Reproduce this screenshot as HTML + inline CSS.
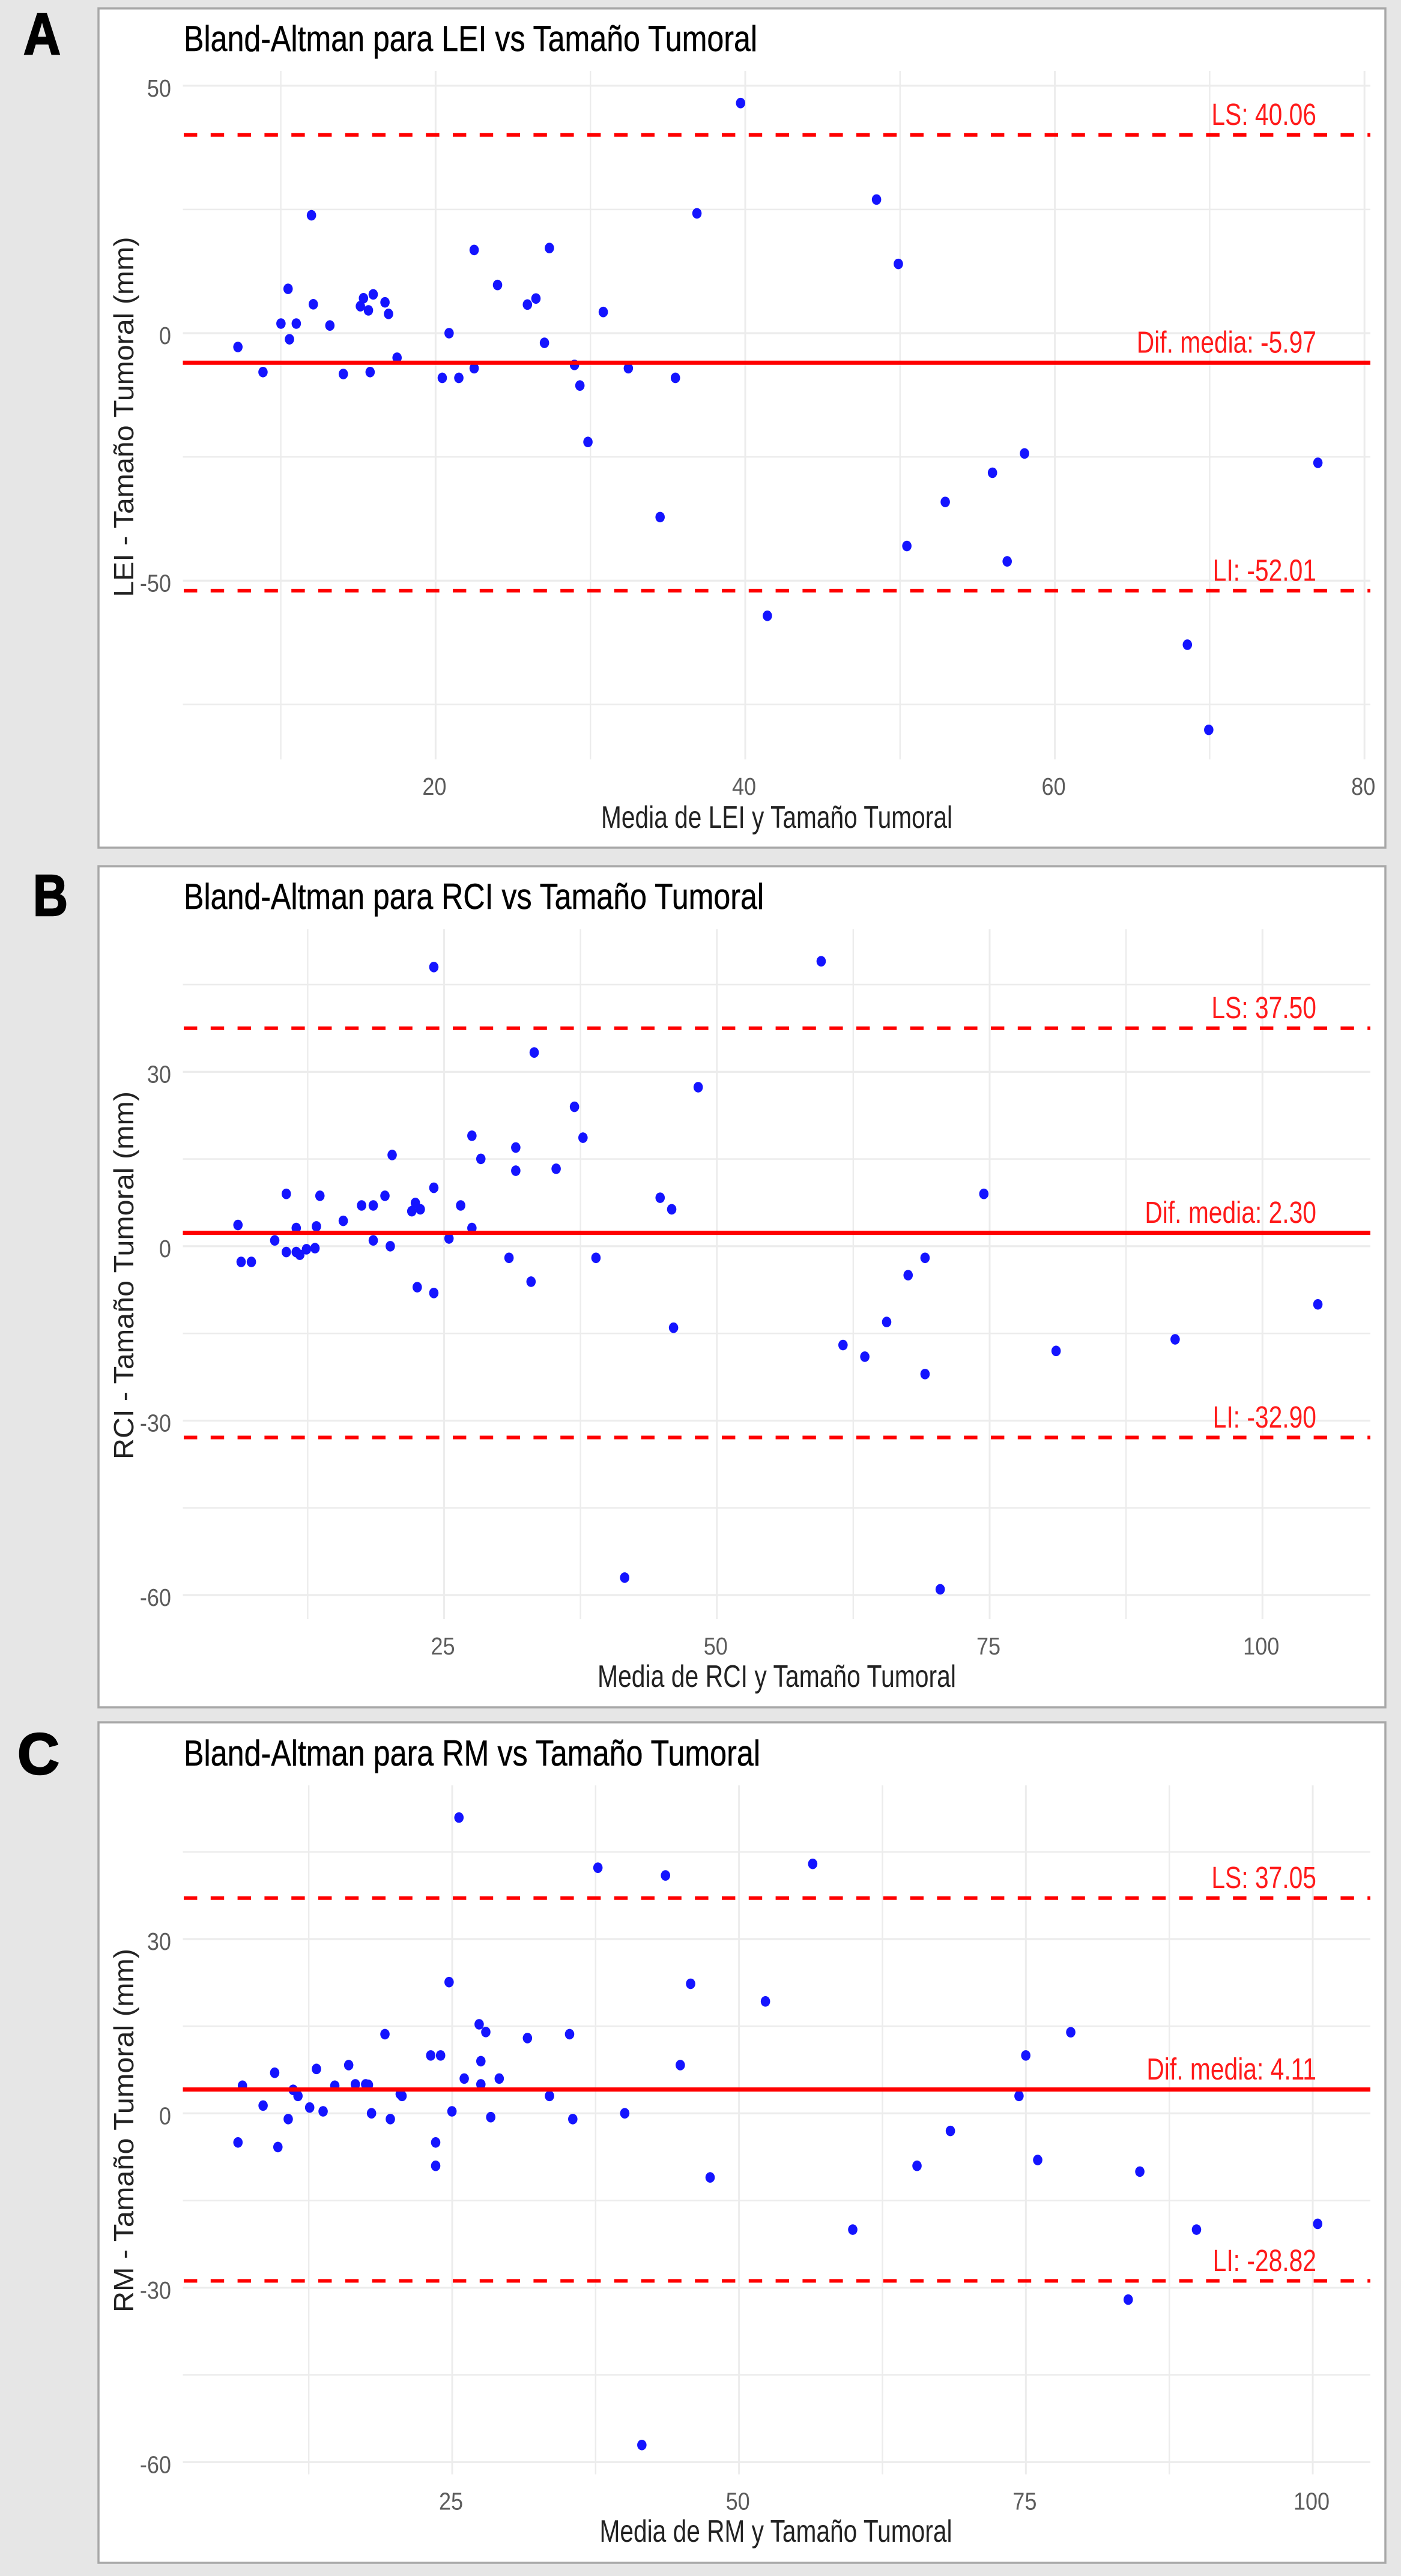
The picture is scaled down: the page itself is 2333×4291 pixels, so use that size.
<!DOCTYPE html>
<html lang="es">
<head>
<meta charset="utf-8">
<title>Bland-Altman</title>
<style>
html,body{margin:0;padding:0;background:#e6e6e6;}
svg{display:block;font-family:"Liberation Sans",sans-serif;}
</style>
</head>
<body>
<svg id="figure" xmlns="http://www.w3.org/2000/svg" width="2333" height="4291" viewBox="0 0 2333 4291">
  <rect x="0" y="0" width="2333" height="4291" fill="#e6e6e6"/>

  <g id="panel-a">
    <rect x="164" y="14" width="2143" height="1398" fill="#fff" stroke="#a8a8a8" stroke-width="3.5"/>
    <text x="39" y="90" font-size="97" font-weight="700" fill="#000" stroke="#000" stroke-width="2.5" textLength="62" lengthAdjust="spacingAndGlyphs">A</text>
    <text x="306" y="85" font-size="60" fill="#000" stroke="#000" stroke-width="0.5" textLength="955" lengthAdjust="spacingAndGlyphs">Bland-Altman para LEI vs Tamaño Tumoral</text>
    <text transform="translate(222,994.6) rotate(-90)" font-size="46" fill="#222" textLength="600" lengthAdjust="spacingAndGlyphs">LEI - Tamaño Tumoral (mm)</text>
    <text x="1001" y="1379" font-size="52" fill="#222" textLength="585" lengthAdjust="spacingAndGlyphs">Media de LEI y Tamaño Tumoral</text>
  </g>

  <g id="panel-b">
    <rect x="164" y="1443" width="2143" height="1401" fill="#fff" stroke="#a8a8a8" stroke-width="3.5"/>
    <text x="55" y="1525" font-size="97" font-weight="700" fill="#000" stroke="#000" stroke-width="2.5" textLength="58" lengthAdjust="spacingAndGlyphs">B</text>
    <text x="306" y="1514" font-size="60" fill="#000" stroke="#000" stroke-width="0.5" textLength="966" lengthAdjust="spacingAndGlyphs">Bland-Altman para RCI vs Tamaño Tumoral</text>
    <text transform="translate(222,2431) rotate(-90)" font-size="46" fill="#222" textLength="613" lengthAdjust="spacingAndGlyphs">RCI - Tamaño Tumoral (mm)</text>
    <text x="995" y="2810" font-size="52" fill="#222" textLength="597" lengthAdjust="spacingAndGlyphs">Media de RCI y Tamaño Tumoral</text>
  </g>

  <g id="panel-c">
    <rect x="164" y="2869" width="2143" height="1400" fill="#fff" stroke="#a8a8a8" stroke-width="3.5"/>
    <text x="29" y="2955" font-size="97" font-weight="700" fill="#000" stroke="#000" stroke-width="2.5" textLength="70" lengthAdjust="spacingAndGlyphs">C</text>
    <text x="306" y="2941" font-size="60" fill="#000" stroke="#000" stroke-width="0.5" textLength="960" lengthAdjust="spacingAndGlyphs">Bland-Altman para RM vs Tamaño Tumoral</text>
    <text transform="translate(222,3852) rotate(-90)" font-size="46" fill="#222" textLength="606" lengthAdjust="spacingAndGlyphs">RM - Tamaño Tumoral (mm)</text>
    <text x="998.5" y="4234" font-size="52" fill="#222" textLength="587" lengthAdjust="spacingAndGlyphs">Media de RM y Tamaño Tumoral</text>
  </g>
</svg>

<script>
// ---------- Panel A data (LEI) ----------
const leiMean = [7.23,8.85,10.01,10.47,10.56,11.0,11.98,12.1,13.17,14.04,15.14,15.34,15.66,15.77,15.97,16.73,16.96,17.51,20.43,20.87,21.5,22.49,22.49,24.0,25.93,26.48,27.03,27.35,28.97,29.32,30.83,32.45,35.49,36.88,29.84,34.5,39.7,48.48,49.89,58.04,55.97,52.92,50.44,56.92,41.43,68.56,69.94,76.99];
const leiDiff = [-2.79,-7.86,1.94,8.96,-1.23,1.94,23.82,5.84,1.55,-8.25,5.45,7.06,4.61,-7.86,7.84,6.23,3.89,-4.96,-9.03,0,-9.03,-7.08,16.81,9.74,5.78,7.0,-1.95,17.2,-6.41,-10.58,4.28,-7.08,-9.03,24.21,-21.98,-37.16,46.49,27.0,13.99,-24.3,-28.2,-34.1,-43.0,-46.1,-57.1,-62.94,-80.14,-26.19];
const leiLimits = {upper:40.06, mean:-5.97, lower:-52.01};
const leiXMajor = [20,40,60,80];
const leiXMinor = [10,30,50,70];
const leiYMajor = [50,0,-50];
const leiYMinor = [25,-25,-75];

// ---------- Panel B data (RCI) ----------
const rciMean = [24.06,33.26,48.29,36.95,27.55,37.73,31.57,20.24,28.37,31.57,35.27,24.06,10.54,13.62,19.58,44.8,17.44,18.51,26.52,22.37,22.82,22.04,45.86,15.76,6.11,11.45,13.3,27.55,25.45,9.48,18.51,20.07,13.17,12.39,10.54,11.45,11.78,6.4,7.34,30.95,38.92,32.97,22.54,24.06,46.03,41.55,59.56,74.47,69.08,67.53,65.56,61.56,63.56,69.08,81.09,92.0,105.08,70.47];
const rciDiff = [48.01,33.32,27.35,23.98,19.0,18.67,16.97,15.69,15.02,12.99,13.32,10.05,9.0,8.67,8.67,8.34,7.01,7.01,7.01,7.44,6.35,6.02,6.35,4.36,3.65,3.13,3.41,3.13,1.33,1.0,1.0,0,-0.33,-0.52,-1.0,-1.0,-1.47,-2.7,-2.7,-2.0,-2.0,-6.1,-7.05,-8.05,-14.02,-57.0,49.01,9.0,-2.0,-4.98,-13.03,-17.0,-19.0,-21.99,-18.01,-16.02,-10.0,-59.01];
const rciLimits = {upper:37.50, mean:2.30, lower:-32.90};
const rciXMajor = [25,50,75,100];
const rciXMinor = [12.5,37.5,62.5,87.5];
const rciYMajor = [30,0,-30,-60];
const rciYMinor = [45,15,-15,-45];

// ---------- Panel C data (RM) ----------
const rmMean = [25.59,37.7,43.59,45.78,24.73,27.35,27.93,19.14,31.56,35.23,23.13,23.99,27.5,44.88,15.98,13.17,9.53,26.05,29.1,6.72,11.14,14.77,16.56,17.46,17.7,27.5,11.56,20.47,20.63,33.48,8.52,12.58,13.75,17.97,24.98,40.04,10.71,19.61,28.36,35.51,6.33,23.56,9.81,23.56,41.53,56.42,52.3,78.91,74.99,74.4,68.42,47.48,65.51,76.03,84.93,59.91,89.87,100.43,83.92];
const rmDiff = [50.9,42.27,40.94,22.3,22.59,15.33,14.0,13.63,12.96,13.63,9.97,9.97,8.98,8.31,8.31,7.65,6.99,5.99,5.99,4.76,4.05,4.76,5.0,5.0,4.9,5.0,3.0,3.34,3.0,3.0,1.34,1.01,0.35,0.02,0.35,0.02,-0.98,-0.98,-0.65,-0.98,-5.0,-5.0,-5.79,-9.02,-57.06,42.93,19.27,13.96,9.97,3.0,-3.02,-11.02,-9.02,-8.02,-10.02,-20.0,-20.0,-19.01,-32.04];
const rmLimits = {upper:37.05, mean:4.11, lower:-28.82};
const rmXMajor = [25,50,75,100];
const rmXMinor = [12.5,37.5,62.5,87.5];
const rmYMajor = [30,0,-30,-60];
const rmYMinor = [45,15,-15,-45];

// ---------- Layout and rendering ----------
const NS = 'http://www.w3.org/2000/svg';
const PLOT_LEFT = 304.5, PLOT_RIGHT = 2282;

function make(tag, attrs, parent) {
  const n = document.createElementNS(NS, tag);
  for (const k in attrs) n.setAttribute(k, attrs[k]);
  parent.appendChild(n);
  return n;
}

function drawPanel(parentId, prefix, s) {
  const parent = document.getElementById(parentId);
  const xOf = v => s.xRef + (v - s.xRefValue) * s.xScale;
  const yOf = v => s.yZero - v * s.yScale;

  const grid = make('g', {}, parent);
  
  

  s.yMinor.concat(s.yMajor).forEach((v, i) => {
    const isMajor = i >= s.yMinor.length;
    const l = make('line', {x1:PLOT_LEFT, x2:PLOT_RIGHT, y1:yOf(v), y2:yOf(v), stroke:'#ececec', 'stroke-width':isMajor ? 3.2 : 2.6}, grid);
    
    
  });
  s.xMinor.concat(s.xMajor).forEach((v, i) => {
    const isMajor = i >= s.xMinor.length;
    const l = make('line', {x1:xOf(v), x2:xOf(v), y1:s.top, y2:s.bottom, stroke:'#ececec', 'stroke-width':isMajor ? 3 : 2.4}, grid);
    
    
  });

  s.yMajor.forEach(v => {
    const t = make('text', {'text-anchor':'end', 'font-size':41, fill:'#5c5c5c', transform:`translate(285,${yOf(v) + 18}) scale(0.88,1)`}, parent);
    t.textContent = String(v);
    
    
  });
  s.xMajor.forEach(v => {
    const t = make('text', {'text-anchor':'middle', 'font-size':41, fill:'#5c5c5c', transform:`translate(${xOf(v) - 2},${s.bottom + 59}) scale(0.88,1)`}, parent);
    t.textContent = String(v);
    
    
  });

  const pts = make('g', {fill:'#1414ff'}, parent);
  
  
  s.means.forEach((m, i) => {
    const p = make('ellipse', {cx:xOf(m), cy:yOf(s.diffs[i]), rx:7.8, ry:8.8}, pts);
    
    
  });

  const upper = make('line', {x1:PLOT_LEFT + 1.5, x2:PLOT_RIGHT, y1:yOf(s.limits.upper), y2:yOf(s.limits.upper), stroke:'#ff0000', 'stroke-width':6, 'stroke-dasharray':'22.4 22.4'}, parent);
  
  
  const lower = make('line', {x1:PLOT_LEFT + 1.5, x2:PLOT_RIGHT, y1:yOf(s.limits.lower), y2:yOf(s.limits.lower), stroke:'#ff0000', 'stroke-width':6, 'stroke-dasharray':'22.4 22.4'}, parent);
  
  
  const mean = make('line', {x1:PLOT_LEFT, x2:PLOT_RIGHT, y1:yOf(s.limits.mean), y2:yOf(s.limits.mean), stroke:'#ff0000', 'stroke-width':7}, parent);
  
  

  const labelAttrs = v => ({'text-anchor':'end', 'font-size':51, fill:'#ff1a1a', transform:`translate(2192,${yOf(v) - 16.5}) scale(0.8,1)`});
  const ls = make('text', labelAttrs(s.limits.upper), parent);
  ls.textContent = 'LS: ' + s.limits.upper.toFixed(2);
  
  
  const md = make('text', labelAttrs(s.limits.mean), parent);
  md.textContent = 'Dif. media: ' + s.limits.mean.toFixed(2);
  
  
  const li = make('text', labelAttrs(s.limits.lower), parent);
  li.textContent = 'LI: ' + s.limits.lower.toFixed(2);
  
  
}

drawPanel('panel-a', 'panel-a', {
  top:118, bottom:1265, xRef:725.4, xRefValue:20, xScale:25.78, yZero:555, yScale:8.245,
  means:leiMean, diffs:leiDiff, limits:leiLimits,
  xMajor:leiXMajor, xMinor:leiXMinor, yMajor:leiYMajor, yMinor:leiYMinor
});
drawPanel('panel-b', 'panel-b', {
  top:1548, bottom:2697, xRef:739.5, xRefValue:25, xScale:18.17, yZero:2075.9, yScale:9.685,
  means:rciMean, diffs:rciDiff, limits:rciLimits,
  xMajor:rciXMajor, xMinor:rciXMinor, yMajor:rciYMajor, yMinor:rciYMinor
});
drawPanel('panel-c', 'panel-c', {
  top:2974, bottom:4121.6, xRef:753, xRefValue:25, xScale:19.107, yZero:3520.4, yScale:9.681,
  means:rmMean, diffs:rmDiff, limits:rmLimits,
  xMajor:rmXMajor, xMinor:rmXMinor, yMajor:rmYMajor, yMinor:rmYMinor
});
</script>
</body>
</html>
